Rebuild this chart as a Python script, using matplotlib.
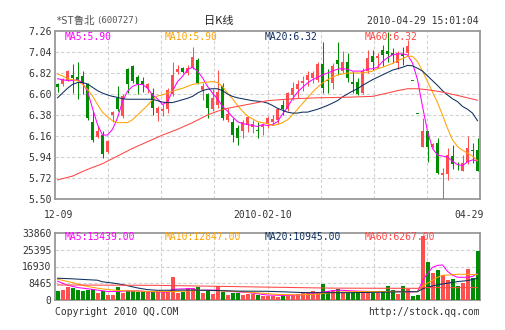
import matplotlib
matplotlib.use("Agg")
import matplotlib.pyplot as plt

# daily candles, 2009-12-09 .. 2010-04-29
opens = [6.70, 6.70, 6.75, 6.80, 6.78, 6.79, 6.70, 6.31, 6.15, 6.17,
         5.99, 6.38, 6.56, 6.37, 6.86, 6.89, 6.78, 6.74, 6.66, 6.61,
         6.40, 6.42, 6.44, 6.60, 6.83, 6.87, 6.82, 6.87, 6.96, 6.64,
         6.60, 6.44, 6.48, 6.68, 6.33, 6.31, 6.24, 6.21, 6.28, 6.25,
         6.22, 6.25, 6.29, 6.31, 6.33, 6.49, 6.44, 6.59, 6.65, 6.72,
         6.75, 6.77, 6.75, 6.91, 6.75, 6.72, 6.96, 6.84, 6.94, 6.73,
         6.73, 6.61, 6.84, 7.00, 6.98, 7.06, 7.05, 7.03, 6.93, 7.02,
         7.03, 6.74, 6.39, 6.05, 6.21, 6.04, 6.09, 5.75, 5.76, 5.95,
         5.83, 5.79, 5.89, 6.01, 6.01]
highs = [6.72, 6.77, 6.85, 6.91, 6.94, 6.84, 6.72, 6.42, 6.26, 6.21,
         6.12, 6.42, 6.68, 6.60, 6.87, 6.90, 6.80, 6.78, 6.72, 6.66,
         6.47, 6.50, 6.66, 6.94, 6.90, 6.88, 6.90, 7.09, 6.98, 6.72,
         6.61, 6.65, 6.85, 6.72, 6.45, 6.35, 6.28, 6.33, 6.37, 6.33,
         6.31, 6.30, 6.37, 6.38, 6.45, 6.54, 6.62, 6.73, 6.75, 6.79,
         6.84, 6.84, 6.94, 7.14, 6.86, 6.92, 7.15, 7.05, 7.03, 6.84,
         6.77, 6.87, 7.06, 7.06, 7.03, 7.11, 7.25, 7.08, 7.05, 7.09,
         7.17, 6.74, 6.39, 6.35, 6.21, 6.09, 6.14, 5.82, 6.03, 6.07,
         5.89, 5.96, 6.16, 6.09, 6.14]
lows = [6.62, 6.68, 6.74, 6.61, 6.55, 6.60, 6.33, 6.10, 6.14, 5.93,
        5.98, 6.31, 6.42, 6.35, 6.61, 6.72, 6.60, 6.62, 6.61, 6.38,
        6.32, 6.37, 6.40, 6.58, 6.81, 6.82, 6.80, 6.86, 6.70, 6.54,
        6.35, 6.42, 6.45, 6.33, 6.31, 6.10, 6.07, 6.14, 6.20, 6.19,
        6.14, 6.17, 6.24, 6.28, 6.29, 6.38, 6.42, 6.54, 6.56, 6.63,
        6.68, 6.72, 6.73, 6.61, 6.61, 6.65, 6.80, 6.82, 6.73, 6.61,
        6.59, 6.60, 6.82, 6.85, 6.87, 6.89, 6.94, 6.92, 6.86, 6.90,
        7.01, 6.74, 6.39, 6.05, 5.89, 6.03, 5.76, 5.50, 5.70, 5.81,
        5.80, 5.79, 5.87, 5.88, 5.79]
closes = [6.67, 6.75, 6.84, 6.77, 6.74, 6.72, 6.35, 6.12, 6.21, 5.97,
          6.11, 6.41, 6.44, 6.58, 6.71, 6.74, 6.70, 6.70, 6.70, 6.45,
          6.45, 6.44, 6.64, 6.80, 6.86, 6.83, 6.87, 6.99, 6.72, 6.68,
          6.45, 6.56, 6.62, 6.35, 6.39, 6.17, 6.14, 6.31, 6.36, 6.29,
          6.21, 6.28, 6.35, 6.34, 6.44, 6.44, 6.61, 6.66, 6.70, 6.74,
          6.80, 6.82, 6.91, 6.66, 6.74, 6.89, 6.91, 6.94, 6.77, 6.70,
          6.60, 6.84, 6.98, 6.94, 7.00, 7.01, 7.02, 7.01, 7.03, 7.00,
          7.10, 6.74, 6.39, 6.21, 6.05, 6.08, 5.77, 5.77, 5.96, 5.87,
          5.82, 5.88, 6.03, 6.00, 5.79]
volumes = [4700, 5300, 6400, 6100, 5300, 4400, 5300, 5600, 3600, 4400,
           2700, 2700, 6500, 3600, 5300, 4400, 3900, 3900, 3900, 3900,
           3900, 3900, 3900, 11700, 3700, 4200, 6000, 6000, 6500, 3700,
           5000, 3000, 7000, 4200, 2500, 3700, 3400, 2500, 3000, 3000,
           2600, 2000, 1900, 1900, 1600, 2700, 2200, 2700, 3200, 3500,
           4000, 4400, 3900, 8100, 4400, 5300, 5600, 3600, 3600, 3600,
           3900, 4700, 4400, 3600, 3600, 4700, 6900, 5300, 3200, 7300,
           5600, 1800, 2500, 32300, 19400, 13500, 15200, 12600, 10100, 10400,
           7200, 8500, 15500, 11300, 24700]

# price moving averages
ma5 = [6.76, 6.75, 6.74, 6.74, 6.75, 6.715, 6.63, 6.45, 6.28, 6.17,
       6.17, 6.23, 6.35, 6.52, 6.63, 6.68, 6.70, 6.70, 6.66, 6.59,
       6.55, 6.49, 6.52, 6.63, 6.73, 6.785, 6.855, 6.88, 6.84, 6.77,
       6.68, 6.61, 6.55, 6.47, 6.42, 6.36, 6.31, 6.29, 6.28, 6.27,
       6.26, 6.28, 6.27, 6.28, 6.31, 6.39, 6.46, 6.55, 6.62, 6.67,
       6.715, 6.75, 6.775, 6.80, 6.82, 6.84, 6.86, 6.865, 6.86, 6.84,
       6.84, 6.84, 6.86, 6.865, 6.88, 6.94, 6.98, 7.01, 7.02, 7.02,
       7.01, 6.925, 6.75, 6.47, 6.21, 6.03, 5.96, 5.95, 5.94, 5.895,
       5.86, 5.85, 5.89, 5.91, 5.90]
ma10 = [6.81, 6.79, 6.76, 6.75, 6.74, 6.70, 6.65, 6.58, 6.49, 6.41,
        6.36, 6.32, 6.30, 6.30, 6.30, 6.33, 6.38, 6.43, 6.48, 6.54,
        6.58, 6.59, 6.61, 6.63, 6.645, 6.66, 6.68, 6.70, 6.71, 6.72,
        6.725, 6.73, 6.72, 6.68, 6.61, 6.55, 6.48, 6.42, 6.37, 6.34,
        6.31, 6.30, 6.29, 6.27, 6.28, 6.30, 6.33, 6.38, 6.44, 6.50,
        6.56, 6.62, 6.67, 6.715, 6.75, 6.775, 6.80, 6.81, 6.82, 6.82,
        6.82, 6.82, 6.83, 6.84, 6.865, 6.88, 6.90, 6.92, 6.95, 6.97,
        6.995, 6.995, 6.94, 6.84, 6.73, 6.62, 6.51, 6.38, 6.24, 6.12,
        6.05, 6.01, 5.98, 5.95, 5.90]
ma20 = [6.56, 6.61, 6.66, 6.70, 6.72, 6.72, 6.705, 6.67, 6.635, 6.61,
        6.59, 6.575, 6.565, 6.55, 6.545, 6.545, 6.545, 6.545, 6.545, 6.545,
        6.53, 6.515, 6.51, 6.51, 6.525, 6.54, 6.555, 6.575, 6.61, 6.635,
        6.65, 6.655, 6.655, 6.635, 6.60, 6.575, 6.56, 6.55, 6.54, 6.53,
        6.525, 6.52, 6.505, 6.48, 6.45, 6.43, 6.41, 6.40, 6.40, 6.41,
        6.41, 6.425, 6.44, 6.46, 6.48, 6.505, 6.53, 6.57, 6.60, 6.63,
        6.655, 6.69, 6.72, 6.75, 6.775, 6.80, 6.825, 6.85, 6.865, 6.88,
        6.90, 6.895, 6.87, 6.84, 6.79, 6.74, 6.69, 6.635, 6.59, 6.55,
        6.52, 6.47, 6.44, 6.40, 6.32]
ma60_days = [0, 3, 6, 9, 12, 15, 18, 21, 24, 27, 30, 32, 34, 37, 40,
             42, 47, 52, 57, 63, 66, 68, 70, 72, 74, 77, 80, 82, 84]
ma60 = [5.70, 5.74, 5.81, 5.87, 5.95, 6.03, 6.10, 6.17, 6.23, 6.30, 6.38,
        6.42, 6.45, 6.48, 6.51, 6.53, 6.55, 6.56, 6.565, 6.575, 6.61,
        6.635, 6.655, 6.655, 6.645, 6.62, 6.585, 6.56, 6.535]

# volume moving averages
vma5_days = [0, 2, 4, 6, 8, 10, 12, 14, 16, 18, 20, 22, 23, 25, 27, 28, 30,
             32, 34, 38, 42, 46, 50, 53, 56, 60, 64, 68, 70, 72, 73, 74, 75,
             76, 77, 78, 79, 80, 82, 83, 84]
vma5 = [9500, 7500, 6300, 5700, 5000, 4300, 4300, 4600, 4600, 4200, 4100,
        3900, 5400, 5600, 5800, 4800, 5000, 5000, 4400, 3800, 2500, 2300,
        2900, 4000, 5000, 4500, 4200, 4400, 4000, 4300, 9500, 13500, 16500,
        17500, 17700, 14500, 12500, 11500, 11500, 11900, 13439]
vma10_days = [0, 3, 6, 9, 12, 16, 20, 24, 28, 32, 36, 40, 44, 48, 52, 56, 60,
              64, 68, 72, 73, 74, 75, 76, 77, 78, 80, 82, 83, 84]
vma10 = [10500, 8800, 6800, 5600, 4800, 4500, 4200, 4300, 4900, 4700, 4300,
         3600, 2800, 2600, 3000, 4000, 4300, 4300, 4200, 4200, 7000, 8500,
         10000, 11500, 12500, 12600, 13000, 13000, 12800, 12847]
vma20_days = [0, 3, 5, 8, 9, 11, 13, 16, 18, 20, 26, 30, 36, 42, 50, 58, 64,
              70, 72, 73, 74, 76, 78, 80, 82, 84]
vma20 = [11000, 10700, 10400, 10000, 9200, 8600, 7800, 6100, 5250, 4900,
         5000, 4900, 4500, 4400, 3700, 3700, 3900, 4200, 4200, 5600, 6500,
         7700, 8500, 9300, 9800, 10945]
vma60_days = [0, 20, 30, 42, 55, 72, 73, 78, 84]
vma60 = [7600, 7400, 7000, 6500, 6000, 5900, 6300, 6200, 6267]

price_ticks = [5.50, 5.72, 5.94, 6.16, 6.38, 6.60, 6.82, 7.04, 7.26]
vol_ticks = [0, 8465, 16930, 25395, 33860]
date_labels = ["12-09", "2010-02-10", "04-29"]

UP = "#ff4f4f"
DOWN = "#008c00"
C5, C10, C20, C60 = "#ff00ff", "#ffa200", "#0c2f5e", "#ff4545"
GRID = "#d2d2d2"
FRAME = "#999999"
TXT = "#333333"
MONO = ["DejaVu Sans Mono", "Noto Sans CJK SC"]
LW = 0.75

W, H = 505, 330
fig = plt.figure(figsize=(W / 100, H / 100), dpi=100)
fig.patch.set_facecolor("white")


def px(x0, y0, x1, y1):
    # pixel box -> figure fraction rect
    return [x0 / W, 1 - y1 / H, (x1 - x0) / W, (y1 - y0) / H]


ax = fig.add_axes(px(55, 31, 480, 199))
axv = fig.add_axes(px(55, 233, 480, 300))

n = len(closes)
days = list(range(n))

for a in (ax, axv):
    a.set_xlim(-0.5, n - 0.5)
    for k in range(1, 8):
        a.axvline(-0.5 + n * k / 8, color=GRID, lw=0.8, ls=(0, (3, 2)), zorder=0)
    for s in a.spines.values():
        s.set_color(FRAME)
        s.set_linewidth(1.3)
    a.set_xticks([])
    a.tick_params(axis="y", length=0, pad=2.5, labelsize=7, labelcolor=TXT)

# candles
for i in days:
    o, h, l, c = opens[i], highs[i], lows[i], closes[i]
    if c > o:
        col = UP
    elif c < o:
        col = DOWN
    else:
        col = DOWN if i > 0 and c < closes[i - 1] else UP
    ax.vlines(i, l, h, color=col, lw=LW, zorder=3)
    body = max(abs(c - o), 0.008)
    ax.bar(i, body, bottom=min(o, c), width=0.74, color=col, lw=0, zorder=3)
    axv.bar(i, volumes[i], width=0.8, color=col, lw=0, zorder=3)

ax.plot(days, ma5, color=C5, lw=LW, zorder=4)
ax.plot(days, ma10, color=C10, lw=LW, zorder=4)
ax.plot(days, ma20, color=C20, lw=LW, zorder=4)
ax.plot(ma60_days, ma60, color=C60, lw=LW, zorder=4)

axv.plot(vma5_days, vma5, color=C5, lw=LW, zorder=4)
axv.plot(vma10_days, vma10, color=C10, lw=LW, zorder=4)
axv.plot(vma20_days, vma20, color=C20, lw=LW, zorder=4)
axv.plot(vma60_days, vma60, color=C60, lw=LW, zorder=4)

ax.set_ylim(price_ticks[0], price_ticks[-1])
ax.set_yticks(price_ticks)
ax.set_yticklabels(["%.2f" % t for t in price_ticks], family=MONO)
for t in price_ticks[1:-1]:
    ax.axhline(t, color=GRID, lw=0.8, ls=(0, (3, 2)), zorder=0)

axv.set_ylim(vol_ticks[0], vol_ticks[-1])
axv.set_yticks(vol_ticks)
axv.set_yticklabels([str(t) for t in vol_ticks], family=MONO)
for t in vol_ticks[1:-1]:
    axv.axhline(t, color=GRID, lw=0.8, ls=(0, (3, 2)), zorder=0)

# legends inside the panels
labels = [("MA5:%.2f" % ma5[-1], C5), ("MA10:%.2f" % ma10[-1], C10),
          ("MA20:%.2f" % ma20[-1], C20), ("MA60:6.32", C60)]
vlabels = [("MA5:%.2f" % vma5[-1], C5), ("MA10:%.2f" % vma10[-1], C10),
           ("MA20:%.2f" % vma20[-1], C20), ("MA60:%.2f" % vma60[-1], C60)]
for k, (s, col) in enumerate(labels):
    fig.text((65 + 100 * k) / W, 1 - 37 / H, s, color=col, fontsize=7,
             family=MONO, va="center", ha="left", zorder=6)
for k, (s, col) in enumerate(vlabels):
    fig.text((65 + 100 * k) / W, 1 - 237 / H, s, color=col, fontsize=7,
             family=MONO, va="center", ha="left", zorder=6)

# header
fig.text(55 / W, 1 - 21 / H, "*ST鲁北", color="#555555", fontsize=7.5,
         family=MONO, va="center", ha="left")
fig.text(96 / W, 1 - 21 / H, "(600727)", color="#555555", fontsize=6.5,
         family=MONO, va="center", ha="left")
fig.text(219 / W, 1 - 21 / H, "日K线", color="#222222", fontsize=8,
         family=["Noto Sans CJK SC", "DejaVu Sans"], va="center", ha="center")
fig.text(479 / W, 1 - 21 / H, "2010-04-29 15:01:04", color=TXT, fontsize=7,
         family=MONO, va="center", ha="right")

# dates under the price panel
for s, xp in zip(date_labels, [59, 263, 469]):
    fig.text(xp / W, 1 - 215 / H, s, color=TXT, fontsize=7, family=MONO,
             va="center", ha="center")

# footer
fig.text(55 / W, 1 - 312 / H, "Copyright 2010 QQ.COM", color=TXT, fontsize=7,
         family=MONO, va="center", ha="left")
fig.text(480 / W, 1 - 312 / H, "http://stock.qq.com", color=TXT, fontsize=7,
         family=MONO, va="center", ha="right")

fig.savefig("out.png", dpi=100)
